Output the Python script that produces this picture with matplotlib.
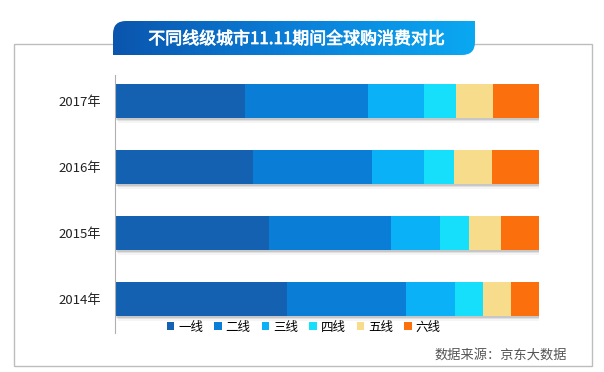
import numpy as np
import matplotlib
matplotlib.use('Agg')
import matplotlib.pyplot as plt
from matplotlib.path import Path
from matplotlib.patches import PathPatch, Rectangle, Patch
import matplotlib.patheffects as pe

plt.rcParams['font.family'] = ['Noto Sans CJK SC', 'DejaVu Sans']

# data (share of spending, %)
years = ['2014年', '2015年', '2016年', '2017年']
tiers = ['一线', '二线', '三线', '四线', '五线', '六线']
tier1 = [40.6, 36.3, 32.5, 30.7]
tier2 = [28.1, 28.8, 28.1, 29.0]
tier3 = [11.6, 11.6, 12.3, 13.2]
tier4 = [6.6, 6.8, 7.1, 7.5]
tier5 = [6.6, 7.5, 9.0, 8.7]
tier6 = [6.5, 9.0, 11.0, 10.9]
colors = ['#1461b2', '#0a7dd6', '#0bb1f6', '#16dffb', '#f6dc8b', '#fb6f0c']

title = '不同线级城市11.11期间全球购消费对比'
source = '数据来源：京东大数据'

W, H = 604, 372
fig = plt.figure(figsize=(W / 100, H / 100), dpi=100)

# background layer in pixel coords
bg = fig.add_axes([0, 0, 1, 1])
bg.set_xlim(0, W)
bg.set_ylim(H, 0)
bg.axis('off')
bg.add_patch(Rectangle((14, 44), 578, 322, fill=False, ec='#bdbdbd', lw=1))

# title box: gradient, rounded top-left and bottom-right
x0, x1, y0, y1, r = 113, 475, 21, 55, 13
verts = [(x0, y1), (x0, y0 + r), (x0, y0), (x0 + r, y0), (x1, y0),
         (x1, y1 - r), (x1, y1), (x1 - r, y1), (x0, y1), (x0, y1)]
codes = [Path.MOVETO, Path.LINETO, Path.CURVE3, Path.CURVE3, Path.LINETO,
         Path.LINETO, Path.CURVE3, Path.CURVE3, Path.LINETO, Path.CLOSEPOLY]
box = PathPatch(Path(verts, codes), fc='none', ec='none')
bg.add_patch(box)
grad = np.linspace(0, 1, 256).reshape(1, -1)
cmap = matplotlib.colors.LinearSegmentedColormap.from_list('t', ['#0b55ad', '#0a7fd8', '#0aa8f2'])
im = bg.imshow(grad, extent=(x0, x1, y1, y0), cmap=cmap, aspect='auto', zorder=2)
im.set_clip_path(box)
bg.set_xlim(0, W)
bg.set_ylim(H, 0)
bg.text((x0 + x1) / 2 + 2, (y0 + y1) / 2 + 1, title, color='white', fontsize=12.2,
        ha='center', va='center', zorder=3,
        path_effects=[pe.withStroke(linewidth=0.5, foreground='white')])

bg.text(567, 355, source, color='#555555', fontsize=9.5, ha='right', va='center')

# main chart
ax = fig.add_axes([115 / W, 1 - 333 / H, 424 / W, 258 / H])
ax.patch.set_alpha(0)
series = [tier1, tier2, tier3, tier4, tier5, tier6]
y = np.arange(len(years))
left = np.zeros(len(years))
for vals, c, name in zip(series, colors, tiers):
    vals = np.array(vals)
    ax.barh(y, vals, left=left, height=0.515, color=c, label=name, lw=0)
    left += vals

# soft shadow under each whole bar
for yi, tot in zip(y, left):
    for k, a in enumerate([0.18, 0.12, 0.06]):
        rect = Rectangle((0, yi - 0.2575), tot, 0.515, fc='#ffffff', ec='none', zorder=0.5)
        rect.set_path_effects([pe.SimplePatchShadow(offset=(1 + k * 0.5, -1.5 - k),
                                                    shadow_rgbFace='#555555', alpha=a)])
        ax.add_patch(rect)

ax.set_xlim(0, left.max())
ax.set_ylim(-0.515, 3.394)
ax.set_yticks(y)
ax.set_yticklabels(years, fontsize=9.5, color='#222222')
ax.tick_params(axis='y', length=0, pad=10)
ax.set_xticks([])
for s in ['top', 'right', 'bottom']:
    ax.spines[s].set_visible(False)
ax.spines['left'].set_color('#b0b0b0')
ax.spines['left'].set_linewidth(0.8)

handles = [Patch(fc=c, ec='none') for c in colors]
fig.legend(handles, tiers, loc='center', bbox_to_anchor=(0.503, 1 - 327 / H), ncol=6,
           frameon=False, fontsize=9, handlelength=0.6, handleheight=0.6,
           handletextpad=0.3, columnspacing=0.9)

fig.savefig('out.png', dpi=100)
